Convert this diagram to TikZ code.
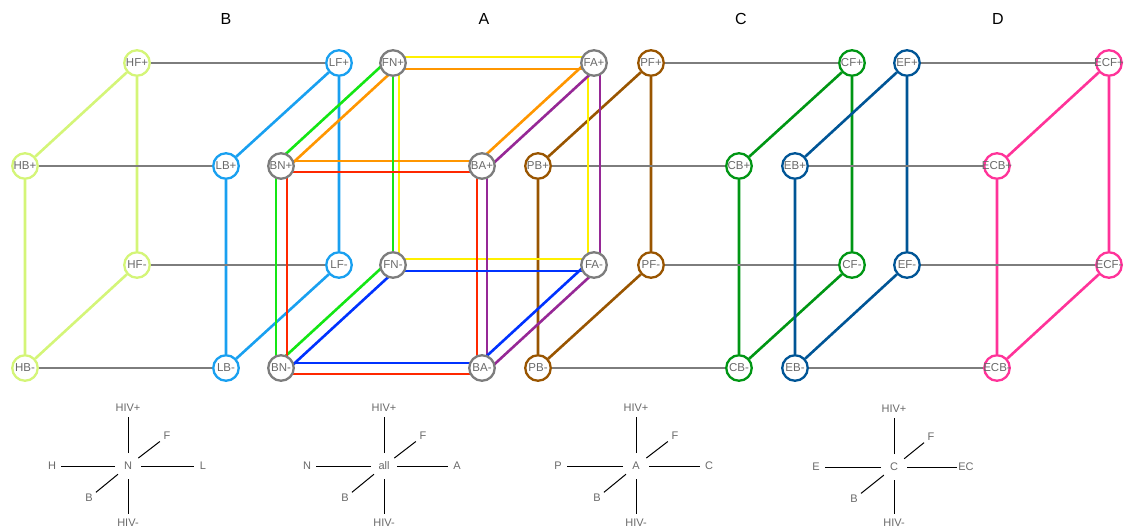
\documentclass[tikz,border=0pt]{standalone}
\usepackage{fontspec}
\setmainfont{Liberation Sans}
\usetikzlibrary{positioning, calc}

\definecolor{txtgray}{RGB}{105,105,105}
\definecolor{linegray}{RGB}{125,125,125}
\definecolor{hcol}{RGB}{212,245,120}
\definecolor{lcol}{RGB}{25,160,240}
\definecolor{pcol}{RGB}{153,85,0}
\definecolor{ccol}{RGB}{0,150,20}
\definecolor{ecol}{RGB}{0,85,150}
\definecolor{eccol}{RGB}{255,51,153}
\definecolor{cyel}{RGB}{255,240,0}
\definecolor{corg}{RGB}{255,150,0}
\definecolor{cgrn}{RGB}{20,230,20}
\definecolor{cred}{RGB}{255,40,0}
\definecolor{cpur}{RGB}{150,40,150}
\definecolor{cblu}{RGB}{0,50,255}

\pgfdeclarelayer{edges}
\pgfsetlayers{edges,main}

\begin{document}
\begin{tikzpicture}[
    x=1pt, y=-1pt, on grid,
    vert/.style={draw, circle, minimum size=25.5pt, inner sep=0pt, line width=2.3pt, fill=white, text=txtgray, font=\fontsize{11.5}{13}\selectfont},
    hv/.style={vert, draw=hcol},
    lv/.style={vert, draw=lcol},
    av/.style={vert, draw=linegray},
    pv/.style={vert, draw=pcol},
    cv/.style={vert, draw=ccol},
    ev/.style={vert, draw=ecol},
    ecv/.style={vert, draw=eccol},
    edge/.style={line width=2.6pt},
    link/.style={edge, draw=linegray},
    axlbl/.style={text=txtgray, inner sep=0pt, font=\fontsize{11}{13}\selectfont},
    axline/.style={line width=1pt, shorten <=13pt, shorten >=9pt},
    title/.style={font=\fontsize{16}{19}\selectfont}
]
\useasboundingbox (0,0) rectangle (1129,530);

% group titles
\node[title] (tB) at (226,19) {B};
\node[title] (tA) at (484,19) {A};
\node[title] (tC) at (741,19) {C};
\node[title] (tD) at (998,19) {D};

% cube B: H and L
\node[hv] (HFp) at (137,63) {HF+};
\node[hv, below left=103pt and 112pt of HFp] (HBp) {HB+};
\node[hv, below=202pt of HFp] (HFm) {HF-};
\node[hv, below=202pt of HBp] (HBm) {HB-};
\node[lv] (LFp) at (339,63) {LF+};
\node[lv, below left=103pt and 113pt of LFp] (LBp) {LB+};
\node[lv, below=202pt of LFp] (LFm) {LF-};
\node[lv, below=202pt of LBp] (LBm) {LB-};

% cube A
\node[av] (FNp) at (393,63) {FN+};
\node[av, right=201pt of FNp] (FAp) {FA+};
\node[av, below left=103pt and 112pt of FNp] (BNp) {BN+};
\node[av, below left=103pt and 112pt of FAp] (BAp) {BA+};
\node[av, below=202pt of FNp] (FNm) {FN-};
\node[av, below=202pt of FAp] (FAm) {FA-};
\node[av, below=202pt of BNp] (BNm) {BN-};
\node[av, below=202pt of BAp] (BAm) {BA-};

% cube C: P and C
\node[pv] (PFp) at (651,63) {PF+};
\node[pv, below left=103pt and 113pt of PFp] (PBp) {PB+};
\node[pv, below=202pt of PFp] (PFm) {PF-};
\node[pv, below=202pt of PBp] (PBm) {PB-};
\node[cv] (CFp) at (852,63) {CF+};
\node[cv, below left=103pt and 113pt of CFp] (CBp) {CB+};
\node[cv, below=202pt of CFp] (CFm) {CF-};
\node[cv, below=202pt of CBp] (CBm) {CB-};

% cube D: E and EC
\node[ev] (EFp) at (907,63) {EF+};
\node[ev, below left=103pt and 112pt of EFp] (EBp) {EB+};
\node[ev, below=202pt of EFp] (EFm) {EF-};
\node[ev, below=202pt of EBp] (EBm) {EB-};
\node[ecv] (ECFp) at (1109,63) {\makebox[0pt]{ECF+}};
\node[ecv, below left=103pt and 112pt of ECFp] (ECBp) {\makebox[0pt]{ECB+}};
\node[ecv, below=202pt of ECFp] (ECFm) {\makebox[0pt]{ECF-}};
\node[ecv, below=202pt of ECBp] (ECBm) {\makebox[0pt]{ECB-}};

\begin{pgfonlayer}{edges}
\draw[edge, hcol] (HFp) -- (HBp) -- (HBm) -- (HFm) -- (HFp);
\draw[edge, lcol] (LFp) -- (LBp) -- (LBm) -- (LFm) -- (LFp);
\draw[link] (HFp) -- (LFp);
\draw[link] (HBp) -- (LBp);
\draw[link] (HFm) -- (LFm);
\draw[link] (HBm) -- (LBm);

\draw[edge, pcol] (PFp) -- (PBp) -- (PBm) -- (PFm) -- (PFp);
\draw[edge, ccol] (CFp) -- (CBp) -- (CBm) -- (CFm) -- (CFp);
\draw[link] (PFp) -- (CFp);
\draw[link] (PBp) -- (CBp);
\draw[link] (PFm) -- (CFm);
\draw[link] (PBm) -- (CBm);

\draw[edge, ecol] (EFp) -- (EBp) -- (EBm) -- (EFm) -- (EFp);
\draw[edge, eccol] (ECFp) -- (ECBp) -- (ECBm) -- (ECFm) -- (ECFp);
\draw[link] (EFp) -- (ECFp);
\draw[link] (EBp) -- (ECBp);
\draw[link] (EFm) -- (ECFm);
\draw[link] (EBm) -- (ECBm);

% faces of cube A, each one pushed off the shared edges
\draw[edge, cyel] ($(FNp)+(0,-6)$) -- ($(FAp)+(0,-6)$);
\draw[edge, cyel] ($(FNp)+(6,0)$) -- ($(FNm)+(6,0)$);
\draw[edge, cyel] ($(FAp)+(-6,0)$) -- ($(FAm)+(-6,0)$);
\draw[edge, cyel] ($(FNm)+(0,-6)$) -- ($(FAm)+(0,-6)$);

\draw[edge, corg] ($(FNp)+(0,6)$) -- ($(FAp)+(0,6)$);
\draw[edge, corg] ($(FNp)+(4,4)$) -- ($(BNp)+(4,4)$);
\draw[edge, corg] ($(FAp)+(-4,-4)$) -- ($(BAp)+(-4,-4)$);
\draw[edge, corg] ($(BNp)+(0,-5)$) -- ($(BAp)+(0,-5)$);

\draw[edge, cgrn] (FNp) -- (FNm);
\draw[edge, cgrn] ($(FNp)+(-4,-4)$) -- ($(BNp)+(-4,-4)$);
\draw[edge, cgrn] ($(BNp)+(-5,0)$) -- ($(BNm)+(-5,0)$);
\draw[edge, cgrn] ($(FNm)+(-4,-4)$) -- ($(BNm)+(-4,-4)$);

\draw[edge, cred] ($(BNp)+(0,6)$) -- ($(BAp)+(0,6)$);
\draw[edge, cred] ($(BNp)+(6,0)$) -- ($(BNm)+(6,0)$);
\draw[edge, cred] ($(BAp)+(-5,0)$) -- ($(BAm)+(-5,0)$);
\draw[edge, cred] ($(BNm)+(0,6)$) -- ($(BAm)+(0,6)$);

\draw[edge, cpur] ($(FAp)+(6,0)$) -- ($(FAm)+(6,0)$);
\draw[edge, cpur] ($(FAp)+(4,4)$) -- ($(BAp)+(4,4)$);
\draw[edge, cpur] ($(BAp)+(5,0)$) -- ($(BAm)+(5,0)$);
\draw[edge, cpur] ($(FAm)+(4,4)$) -- ($(BAm)+(4,4)$);

\draw[edge, cblu] ($(FNm)+(0,6)$) -- ($(FAm)+(0,6)$);
\draw[edge, cblu] ($(FNm)+(4,4)$) -- ($(BNm)+(4,4)$);
\draw[edge, cblu] ($(FAm)+(-4,-4)$) -- ($(BAm)+(-4,-4)$);
\draw[edge, cblu] ($(BNm)+(0,-5)$) -- ($(BAm)+(0,-5)$);
\end{pgfonlayer}

% direction keys
\node[axlbl] (kB) at (128,466) {N};
\node[axlbl, above=58pt of kB] (kBup) {HIV+};
\node[axlbl, below=57pt of kB] (kBdn) {HIV-};
\node[axlbl, left=76pt of kB] (kBl) {H};
\node[axlbl, right=75pt of kB] (kBr) {L};
\node[axlbl, above right=30pt and 39pt of kB] (kBf) {F};
\node[axlbl, below left=32pt and 39pt of kB] (kBb) {B};

\node[axlbl] (kA) at (384,466) {all};
\node[axlbl, above=58pt of kA] (kAup) {HIV+};
\node[axlbl, below=57pt of kA] (kAdn) {HIV-};
\node[axlbl, left=77pt of kA] (kAl) {N};
\node[axlbl, right=73pt of kA] (kAr) {A};
\node[axlbl, above right=30pt and 39pt of kA] (kAf) {F};
\node[axlbl, below left=32pt and 39pt of kA] (kAb) {B};

\node[axlbl] (kC) at (636,466) {A};
\node[axlbl, above=58pt of kC] (kCup) {HIV+};
\node[axlbl, below=57pt of kC] (kCdn) {HIV-};
\node[axlbl, left=78pt of kC] (kCl) {P};
\node[axlbl, right=73pt of kC] (kCr) {C};
\node[axlbl, above right=30pt and 39pt of kC] (kCf) {F};
\node[axlbl, below left=32pt and 39pt of kC] (kCb) {B};

\node[axlbl] (kD) at (894,467) {C};
\node[axlbl, above=58pt of kD] (kDup) {HIV+};
\node[axlbl, below=56pt of kD] (kDdn) {HIV-};
\node[axlbl, left=78pt of kD] (kDl) {E};
\node[axlbl, right=72pt of kD] (kDr) {EC};
\node[axlbl, above right=30pt and 37pt of kD] (kDf) {F};
\node[axlbl, below left=32pt and 40pt of kD] (kDb) {B};

\draw[axline] (kB.center) -- (kBup.center);
\draw[axline] (kB.center) -- (kBdn.center);
\draw[axline] (kB.center) -- (kBl.center);
\draw[axline] (kB.center) -- (kBr.center);
\draw[axline] (kB.center) -- (kBf.center);
\draw[axline] (kB.center) -- (kBb.center);

\draw[axline] (kA.center) -- (kAup.center);
\draw[axline] (kA.center) -- (kAdn.center);
\draw[axline] (kA.center) -- (kAl.center);
\draw[axline] (kA.center) -- (kAr.center);
\draw[axline] (kA.center) -- (kAf.center);
\draw[axline] (kA.center) -- (kAb.center);

\draw[axline] (kC.center) -- (kCup.center);
\draw[axline] (kC.center) -- (kCdn.center);
\draw[axline] (kC.center) -- (kCl.center);
\draw[axline] (kC.center) -- (kCr.center);
\draw[axline] (kC.center) -- (kCf.center);
\draw[axline] (kC.center) -- (kCb.center);

\draw[axline] (kD.center) -- (kDup.center);
\draw[axline] (kD.center) -- (kDdn.center);
\draw[axline] (kD.center) -- (kDl.center);
\draw[axline] (kD.center) -- (kDr.center);
\draw[axline] (kD.center) -- (kDf.center);
\draw[axline] (kD.center) -- (kDb.center);
\end{tikzpicture}
\end{document}
